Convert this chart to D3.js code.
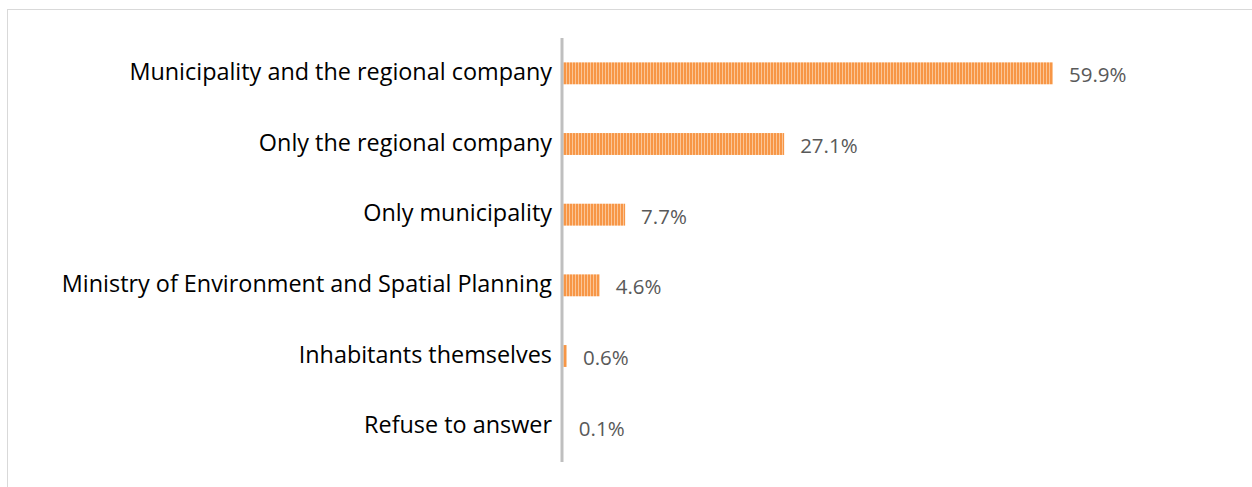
<!DOCTYPE html>
<html lang="en">
  <head>
    <meta charset="UTF-8"/>
    <title>Responsibility bar chart</title>
    <script src="https://d3js.org/d3.v7.min.js"></script>
    <style>
      body { margin: 0; background: #fff; }
      svg { display: block; }
    </style>
  </head>
  <body>
    <script>
    var width = 1252;
    var height = 487;

    // data
    var categories = ['Municipality and the regional company', 'Only the regional company', 'Only municipality',
                      'Ministry of Environment and Spatial Planning', 'Inhabitants themselves', 'Refuse to answer'];
    var values = [59.9, 27.1, 7.7, 4.6, 0.6, 0.1];
    var valueLabels = ['59.9%', '27.1%', '7.7%', '4.6%', '0.6%', '0.1%'];

    var axisX = 562;
    var plotTop = 38, plotBottom = 462;

    var svg = d3.select('body').append('svg')
      .attr('width', width)
      .attr('height', height);

    // stripe pattern like the office fill
    var defs = svg.append('defs');
    var pat = defs.append('pattern')
      .attr('id', 'stripes')
      .attr('patternUnits', 'userSpaceOnUse')
      .attr('width', 3).attr('height', 10);
    pat.append('rect').attr('width', 3).attr('height', 10).attr('fill', '#f79646');
    pat.append('rect').attr('x', 2).attr('width', 1).attr('height', 10).attr('fill', '#fbc596');

    // chart frame
    svg.append('rect')
      .attr('x', 7.5).attr('y', 9.5)
      .attr('width', 1260).attr('height', 500)
      .attr('fill', 'none')
      .attr('stroke', '#d9d9d9')
      .attr('stroke-width', 1);

    var x = d3.scaleLinear().domain([0, 59.9]).range([axisX, 1053]);
    var y = d3.scaleBand().domain(categories).range([plotTop, plotBottom]).paddingInner(0.69).paddingOuter(0.345);

    svg.selectAll('rect.bar')
      .data(values)
      .enter().append('rect')
      .attr('class', 'bar')
      .attr('x', x(0))
      .attr('y', function(d, i) { return y(categories[i]); })
      .attr('width', function(d) { return Math.max(0, x(d) - x(0)); })
      .attr('height', y.bandwidth())
      .attr('fill', 'url(#stripes)');

    // value labels
    svg.selectAll('text.val')
      .data(values)
      .enter().append('text')
      .attr('class', 'val')
      .attr('x', function(d) { return x(d) + 16; })
      .attr('y', function(d, i) { return y(categories[i]) + y.bandwidth() / 2 + 3.5; })
      .attr('dominant-baseline', 'middle')
      .attr('font-family', 'Open Sans, sans-serif')
      .attr('font-size', '20.5px')
      .attr('fill', '#595959')
      .text(function(d, i) { return valueLabels[i]; });

    // axis + category labels
    var yAxis = d3.axisLeft(y).tickSize(0).tickPadding(10);
    var g = svg.append('g').attr('transform', 'translate(' + axisX + ',0)').call(yAxis);
    g.select('.domain').remove();
    g.selectAll('text')
      .attr('font-family', 'Open Sans, sans-serif')
      .attr('font-size', '23.4px')
      .attr('fill', '#000')
      .attr('dy', '0.28em');

    // axis line drawn over the bar starts
    svg.append('line')
      .attr('x1', axisX).attr('x2', axisX)
      .attr('y1', plotTop).attr('y2', plotBottom)
      .attr('stroke', '#bfbfbf')
      .attr('stroke-width', 3);
    </script>
  </body>
</html>
